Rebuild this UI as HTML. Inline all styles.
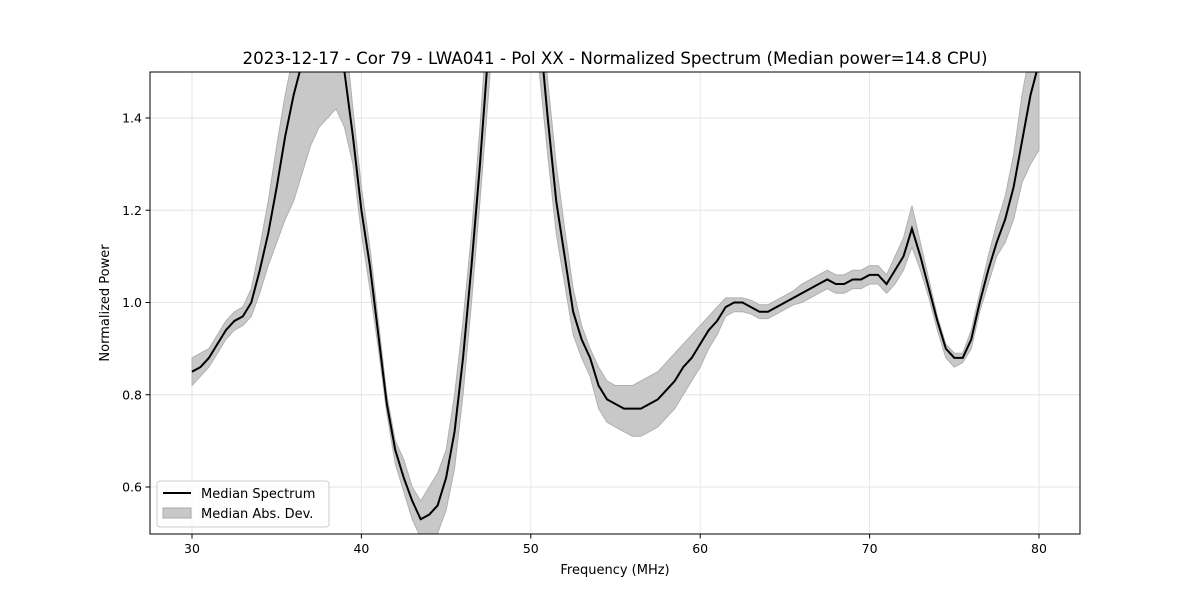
<!DOCTYPE html>
<html><head><meta charset="utf-8"><style>
body{margin:0;background:#fff;font-family:"Liberation Sans","DejaVu Sans",sans-serif}
svg text{font-family:"DejaVu Sans","Liberation Sans",sans-serif;fill:#000}
</style></head><body>
<svg id="chart" width="1200" height="600" viewBox="0 0 1200 600" xmlns="http://www.w3.org/2000/svg">
<defs><clipPath id="clip"><rect x="150" y="72" width="930" height="462"/></clipPath></defs>
<text x="615" y="64" text-anchor="middle" font-size="16.7">2023-12-17 - Cor 79 - LWA041 - Pol XX - Normalized Spectrum (Median power=14.8 CPU)</text>
<g id="grid"></g>
<g id="series" clip-path="url(#clip)"></g>
<rect x="150" y="72" width="930" height="462" fill="none" stroke="#000" stroke-width="1"/>
<g id="ticks"></g>
<text x="615" y="574" text-anchor="middle" font-size="13">Frequency (MHz)</text>
<text transform="translate(109,303) rotate(-90)" text-anchor="middle" font-size="13">Normalized Power</text>
<g>
<rect x="157" y="481" width="172" height="46" rx="3" fill="#fff" fill-opacity="0.8" stroke="#ccc"/>
<line x1="163" y1="493" x2="191" y2="493" stroke="#000" stroke-width="2"/>
<text x="201" y="498" font-size="13">Median Spectrum</text>
<rect x="163" y="508" width="28" height="10" fill="#c8c8c8" stroke="#aaa"/>
<text x="201" y="518" font-size="13">Median Abs. Dev.</text>
</g>
</svg>
<script>
const freqs=[30,30.5,31,31.5,32,32.5,33,33.5,34,34.5,35,35.5,36,36.5,37,37.5,38,38.5,39,39.5,40,40.5,41,41.5,42,42.5,43,43.5,44,44.5,45,45.5,46,46.5,47,47.5,48,49,50,50.5,51,51.5,52,52.5,53,53.5,54,54.5,55,55.5,56,56.5,57,57.5,58,58.5,59,59.5,60,60.5,61,61.5,62,62.5,63,63.5,64,64.5,65,65.5,66,66.5,67,67.5,68,68.5,69,69.5,70,70.5,71,71.5,72,72.5,73,73.5,74,74.5,75,75.5,76,76.5,77,77.5,78,78.5,79,79.5,80];
const median=[.85,.86,.88,.91,.94,.96,.97,1.0,1.07,1.15,1.25,1.36,1.45,1.52,1.56,1.58,1.6,1.56,1.5,1.36,1.2,1.08,.93,.78,.68,.62,.57,.53,.54,.56,.62,.72,.88,1.08,1.3,1.55,1.8,1.9,1.8,1.6,1.4,1.22,1.1,.98,.92,.88,.82,.79,.78,.77,.77,.77,.78,.79,.81,.83,.86,.88,.91,.94,.96,.99,1.0,1.0,.99,.98,.98,.99,1.0,1.01,1.02,1.03,1.04,1.05,1.04,1.04,1.05,1.05,1.06,1.06,1.04,1.07,1.1,1.16,1.1,1.03,.96,.9,.88,.88,.92,1.0,1.07,1.13,1.18,1.25,1.35,1.45,1.52];
const lower=[.82,.84,.86,.89,.92,.94,.95,.97,1.02,1.08,1.13,1.18,1.22,1.28,1.34,1.38,1.4,1.42,1.38,1.3,1.15,1.03,.9,.76,.65,.59,.53,.49,.49,.5,.55,.64,.8,1.0,1.22,1.45,1.7,1.8,1.7,1.5,1.32,1.15,1.04,.93,.88,.84,.77,.74,.73,.72,.71,.71,.72,.73,.75,.77,.8,.83,.86,.9,.93,.97,.98,.98,.975,.965,.965,.975,.985,.995,1.0,1.01,1.02,1.03,1.02,1.02,1.03,1.03,1.04,1.04,1.02,1.04,1.07,1.12,1.07,1.01,.94,.88,.86,.87,.9,.98,1.04,1.1,1.13,1.18,1.26,1.3,1.33];
const upper=[.88,.89,.9,.93,.96,.98,.99,1.03,1.12,1.22,1.34,1.45,1.54,1.6,1.64,1.66,1.68,1.65,1.6,1.42,1.25,1.12,.96,.8,.7,.66,.6,.57,.6,.63,.68,.8,.96,1.15,1.38,1.65,1.9,2,1.9,1.7,1.48,1.3,1.16,1.03,.95,.9,.86,.83,.82,.82,.82,.83,.84,.85,.87,.89,.91,.93,.95,.97,.99,1.01,1.01,1.01,1.005,.995,.995,1.005,1.015,1.025,1.04,1.05,1.06,1.07,1.06,1.06,1.07,1.07,1.08,1.08,1.06,1.1,1.14,1.21,1.13,1.05,.97,.91,.89,.89,.94,1.02,1.1,1.17,1.23,1.32,1.45,1.55,1.6];
const xTicks=[30,40,50,60,70,80];
const yTicks=[0.6,0.8,1.0,1.2,1.4];
const X=f=>192+(f-30)*16.94;
const Y=v=>118+(1.4-v)*461.25;
const NS='http://www.w3.org/2000/svg';
const grid=document.getElementById('grid'),ticks=document.getElementById('ticks'),series=document.getElementById('series');
function mk(tag,attrs,parent){const e=document.createElementNS(NS,tag);for(const k in attrs)e.setAttribute(k,attrs[k]);parent.appendChild(e);return e;}
xTicks.forEach(t=>{
 const g=mk('line',{x1:X(t),x2:X(t),y1:72,y2:534,stroke:'#e6e6e6'},grid);
 
 
 const tk=mk('line',{x1:X(t),x2:X(t),y1:534,y2:538.5,stroke:'#000'},ticks);
 
 
 const tx=mk('text',{x:X(t),y:553,'text-anchor':'middle','font-size':12.5},ticks);tx.textContent=t;
 
 
});
yTicks.forEach(t=>{
 const g=mk('line',{x1:150,x2:1080,y1:Y(t),y2:Y(t),stroke:'#e6e6e6'},grid);
 
 
 const tk=mk('line',{x1:145.5,x2:150,y1:Y(t),y2:Y(t),stroke:'#000'},ticks);
 
 
 const tx=mk('text',{x:142,y:Y(t)+4.5,'text-anchor':'end','font-size':12.5},ticks);tx.textContent=t.toFixed(1);
 
 
});
let d='M'+freqs.map((f,i)=>X(f)+','+Y(upper[i])).join('L');
for(let i=freqs.length-1;i>=0;i--)d+='L'+X(freqs[i])+','+Y(lower[i]);
const band=mk('path',{d:d+'Z',fill:'#c8c8c8',stroke:'#b0b0b0','stroke-width':1},series);


const line=mk('path',{d:'M'+freqs.map((f,i)=>X(f)+','+Y(median[i])).join('L'),fill:'none',stroke:'#000','stroke-width':2},series);


</script>
</body></html>
